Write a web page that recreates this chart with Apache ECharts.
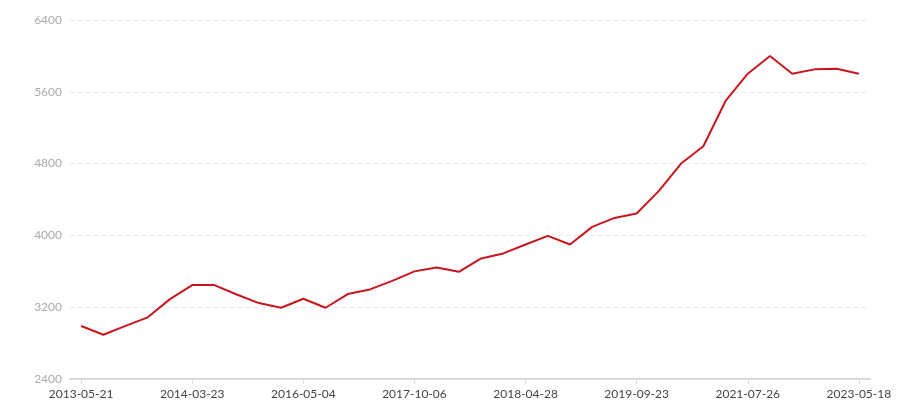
<!DOCTYPE html>
<html>
<head>
<meta charset="utf-8">
<script src="https://cdn.jsdelivr.net/npm/echarts@6/dist/echarts.min.js"></script>
<style>html,body{margin:0;padding:0;background:#fff}#c{width:900px;height:400px}</style>
</head>
<body>
<div id="c"></div>
<script>
var categories = [
  "2013-05-21","2013-07-19","2013-09-17","2013-11-16","2014-01-22","2014-03-23",
  "2014-06-10","2014-09-05","2014-12-18","2015-04-02","2016-05-04","2016-07-20",
  "2016-10-12","2017-01-15","2017-05-08","2017-10-06","2017-11-20","2018-01-05",
  "2018-02-16","2018-03-22","2018-04-28","2018-07-10","2018-10-15","2019-01-20",
  "2019-05-12","2019-09-23","2020-01-18","2020-05-10","2020-09-02","2021-01-14",
  "2021-07-26","2021-12-01","2022-04-10","2022-08-22","2023-01-05","2023-05-18"
];
var values = [
  2990, 2893, 2992, 3087, 3290, 3446, 3446, 3342, 3246, 3194,
  3294, 3194, 3346, 3398, 3494, 3599, 3643, 3594, 3743, 3799,
  3899, 3995, 3899, 4095, 4195, 4244, 4496, 4801, 4993, 5498,
  5802, 5998, 5802, 5850, 5857, 5802
];
var yTicks = { min: 2400, max: 6400, interval: 800 };

var chart = echarts.init(document.getElementById('c'));
chart.setOption({
  animation: false,
  grid: { left: 70, right: 30, top: 20, bottom: 21, containLabel: false },
  xAxis: {
    type: 'category',
    data: categories,
    boundaryGap: true,
    axisLine: { lineStyle: { color: '#d9d9d9', width: 2 } },
    axisTick: { show: true, alignWithLabel: true, interval: 4, lineStyle: { color: '#d9d9d9' } },
    axisLabel: { interval: 4, color: '#444', fontSize: 12, fontFamily: 'Lato, sans-serif', margin: 9 }
  },
  yAxis: {
    type: 'value',
    min: yTicks.min, max: yTicks.max, interval: yTicks.interval,
    axisLine: { show: false },
    axisTick: { show: false },
    axisLabel: { color: '#aaa', fontSize: 12, fontFamily: 'Lato, sans-serif', margin: 8,
      formatter: function (v) { return String(v); } },
    splitLine: { lineStyle: { type: [4, 4], color: '#eaeaea' } }
  },
  series: [{
    type: 'line',
    data: values,
    symbol: 'none',
    lineStyle: { color: '#c8161e', width: 2 },
    itemStyle: { color: '#c8161e' }
  }]
});
</script>
</body>
</html>
